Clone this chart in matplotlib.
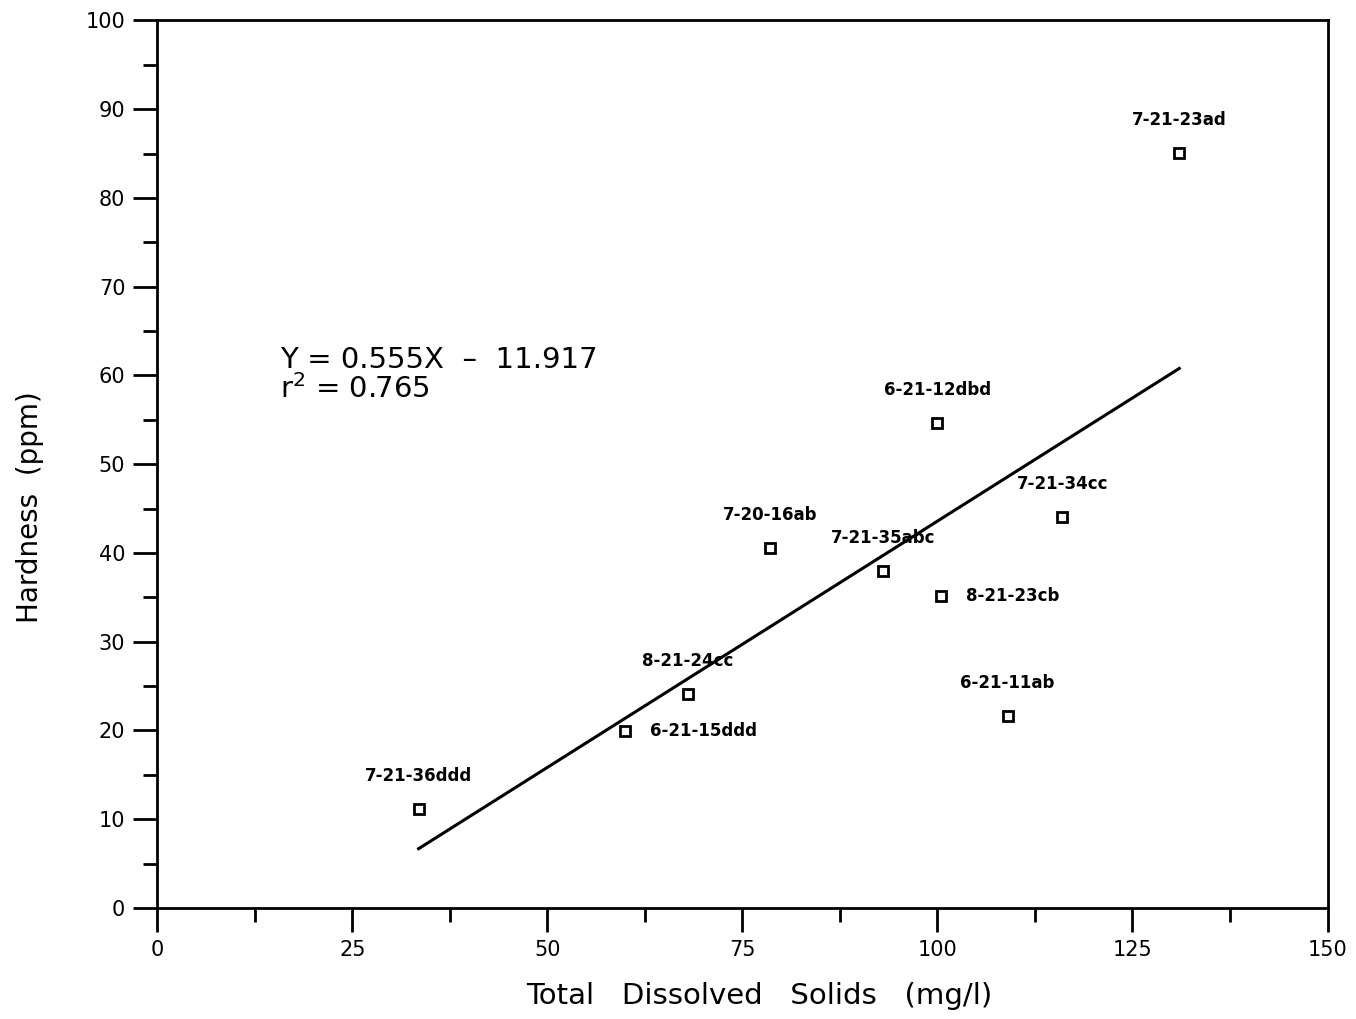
import numpy as np
from matplotlib import pyplot as plt, ticker

# well data
wells = ["7-21-36ddd", "6-21-15ddd", "8-21-24cc", "7-20-16ab", "7-21-35abc",
         "6-21-12dbd", "8-21-23cb", "6-21-11ab", "7-21-34cc", "7-21-23ad"]
tds = [33.5, 60.0, 68.0, 78.5, 93.0, 100.0, 100.5, 109.0, 116.0, 131.0]
hardness = [11.2, 19.9, 24.1, 40.6, 38.0, 54.6, 35.2, 21.6, 44.0, 85.1]
# label placement: "above" or "right"
label_side = ["above", "right", "above", "above", "above",
              "above", "right", "above", "above", "above"]

slope, intercept, r2 = 0.555, -11.917, 0.765

fig = plt.figure(figsize=(13.56, 10.19), dpi=100)
ax = fig.add_axes([0.116, 0.109, 0.863, 0.871])

ax.plot(tds, hardness, linestyle="none", marker="s", markersize=7,
        markerfacecolor="none", markeredgecolor="black", markeredgewidth=2)

xs = np.array([min(tds), max(tds)])
ax.plot(xs, slope * xs + intercept, color="black", linewidth=2.2)

for name, x, y, side in zip(wells, tds, hardness, label_side):
    if side == "above":
        ax.annotate(name, (x, y), xytext=(0, 33), textcoords="offset pixels",
                    ha="center", va="center", fontsize=12, fontweight="bold")
    else:
        ax.annotate(name, (x, y), xytext=(25, 0), textcoords="offset pixels",
                    ha="left", va="center", fontsize=12, fontweight="bold")

ax.text(0.105, 0.617, "Y = 0.555X  \u2013  11.917", transform=ax.transAxes,
        fontsize=21, va="center")
ax.text(0.105, 0.585, "r$^2$ = 0.765", transform=ax.transAxes,
        fontsize=21, va="center")

ax.set_xlim(0, 150)
ax.set_ylim(0, 100)
ax.xaxis.set_major_locator(ticker.MultipleLocator(25))
ax.xaxis.set_minor_locator(ticker.MultipleLocator(12.5))
ax.yaxis.set_major_locator(ticker.MultipleLocator(10))
ax.yaxis.set_minor_locator(ticker.MultipleLocator(5))
ax.tick_params(which="major", direction="out", length=17, width=2, labelsize=15, pad=6)
ax.tick_params(which="minor", direction="out", length=10, width=2)
for s in ax.spines.values():
    s.set_linewidth(2)

ax.set_xlabel("Total   Dissolved   Solids   (mg/l)", fontsize=21)
ax.set_ylabel("Hardness  (ppm)", fontsize=20)
ax.xaxis.set_label_coords(0.514, -0.083)
ax.yaxis.set_label_coords(-0.097, 0.452)

plt.savefig("out.png")
